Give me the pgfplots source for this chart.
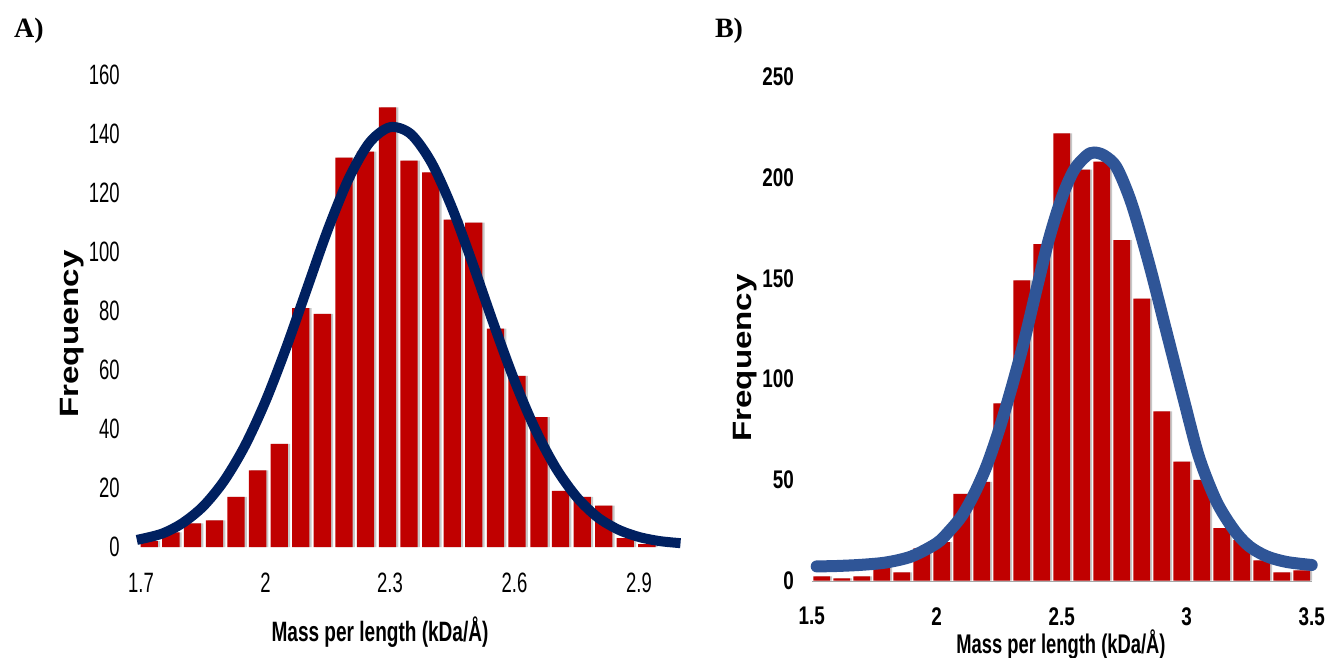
\documentclass[border=0pt]{standalone}
\usepackage{fontspec}
\usepackage{pgfplots}
\usepackage{pgfplotstable}
\pgfplotsset{compat=1.18}
\setmainfont{Liberation Sans}
\newfontfamily\fnA{Liberation Sans}[FakeStretch=0.66]
\newfontfamily\fnB{Liberation Sans}[FakeStretch=0.74]
\newfontfamily\fnL{Liberation Sans}[FakeStretch=0.68]
\newfontfamily\fnF{Liberation Sans}[FakeStretch=1.25]
\newfontfamily\fnP{Liberation Serif}

\definecolor{barred}{HTML}{C00000}
\definecolor{navyfit}{HTML}{002060}
\definecolor{bluefit}{HTML}{2F5597}

% panel A histogram
\pgfplotstableread{
x y
1.720 2
1.772 5
1.824 8
1.877 9
1.929 17
1.981 26
2.033 35
2.085 81
2.137 79
2.189 132
2.241 134
2.294 149
2.346 131
2.398 127
2.450 111
2.502 110
2.554 74
2.606 58
2.659 44
2.711 19
2.763 17
2.815 14
2.867 3
2.919 1
}\histA

% panel A fitted curve
\pgfplotstableread{
x y
1.69 2.4
1.75 4.5
1.80 8.1
1.85 13.8
1.90 22.4
1.95 34.2
2.00 49.4
2.05 67.6
2.10 87.6
2.15 107.5
2.20 124.7
2.25 137.0
2.30 142.3
2.35 140.0
2.40 130.3
2.45 114.8
2.50 95.7
2.55 75.5
2.60 56.4
2.65 39.9
2.70 26.7
2.75 16.9
2.80 10.1
2.85 5.9
2.90 3.4
2.95 2.0
3.00 1.3
}\fitA

% panel B histogram
\pgfplotstableread{
x y
1.54 2
1.62 1
1.70 2
1.78 11
1.86 4
1.94 16
2.02 19
2.10 43
2.18 49
2.26 88
2.34 149
2.42 167
2.50 222
2.58 204
2.66 208
2.74 169
2.82 140
2.90 84
2.98 59
3.06 50
3.14 26
3.22 20
3.30 10
3.38 4
3.46 5
}\histB

% panel B fitted curve
\pgfplotstableread{
x y
1.52 7
1.60 7.2
1.70 7.8
1.80 9
1.90 12
2.00 18.5
2.05 24.5
2.10 32
2.15 43
2.20 57
2.25 75
2.30 96
2.35 119
2.40 145
2.45 170
2.50 190
2.55 204
2.60 211
2.63 212.5
2.67 211
2.72 205
2.78 187
2.85 157
2.92 123
2.99 89
3.05 61
3.12 39
3.19 25
3.25 17
3.32 12
3.40 9.2
3.50 7.7
}\fitB

\begin{document}
\begin{tikzpicture}
\useasboundingbox (0,0) rectangle (1329pt,657pt);

% ---------- A ----------
\begin{axis}[
  at={(136.85pt,110pt)}, anchor=south west, scale only axis,
  width=543.65pt, height=472pt,
  xmin=1.69, xmax=3.0, ymin=0, ymax=160,
  xtick={1.7,2,2.3,2.6,2.9}, ytick={0,20,...,160},
  axis line style={draw=none}, major tick length=0pt,
  clip=false,
  /pgf/number format/assume math mode=true,
  ticklabel style={font=\fnA\fontsize{28}{28}\selectfont, inner sep=0pt},
  yticklabel style={anchor=east, xshift=-17pt},
  xticklabel style={anchor=north, yshift=-26pt},
]
\addplot[ybar, fill=black!22, draw=none, bar width=17.3pt, bar shift=2.2pt] table {\histA};
\addplot[ybar, fill=barred, draw=none, bar width=17.3pt, bar shift=0pt] table {\histA};
\addplot[smooth, navyfit, line width=10pt] table {\fitA};
\end{axis}

% ---------- B ----------
\begin{axis}[
  at={(811.7pt,76.5pt)}, anchor=south west, scale only axis,
  width=500pt, height=503.5pt,
  xmin=1.5, xmax=3.5, ymin=0, ymax=250,
  xtick={1.5,2,2.5,3,3.5}, ytick={0,50,...,250},
  axis line style={draw=none}, major tick length=0pt,
  clip=false,
  /pgf/number format/assume math mode=true,
  ticklabel style={font=\fnB\bfseries\fontsize{25.5}{26}\selectfont, inner sep=0pt},
  yticklabel style={anchor=east, xshift=-17.7pt},
  xticklabel style={anchor=north, yshift=-26.5pt},
]
\draw[black!35, line width=1.2pt] (axis cs:1.5,-0.6) -- (axis cs:3.5,-0.6);
\addplot[ybar, fill=black!22, draw=none, bar width=16.7pt, bar shift=2pt] table {\histB};
\addplot[ybar, fill=barred, draw=none, bar width=16.7pt, bar shift=0pt] table {\histB};
\addplot[smooth, bluefit, line width=12pt, line cap=round] table {\fitB};
\end{axis}

% panel letters and axis titles
\node[font=\fnP\bfseries\fontsize{28}{28}\selectfont] at (29pt,626pt) {A)};
\node[font=\fnP\bfseries\fontsize{28}{28}\selectfont] at (729pt,626pt) {B)};
\node[rotate=90, font=\fnF\bfseries\fontsize{26.5}{27}\selectfont] at (72pt,323pt) {Frequency};
\node[rotate=90, font=\fnF\bfseries\fontsize{26.5}{27}\selectfont] at (745pt,299pt) {Frequency};
\node[font=\fnL\bfseries\fontsize{28}{28}\selectfont] at (380pt,25pt) {Mass per length (kDa/Å)};
\node[font=\fnL\bfseries\fontsize{27}{27}\selectfont] at (1061pt,13pt) {Mass per length (kDa/Å)};
\end{tikzpicture}
\end{document}
